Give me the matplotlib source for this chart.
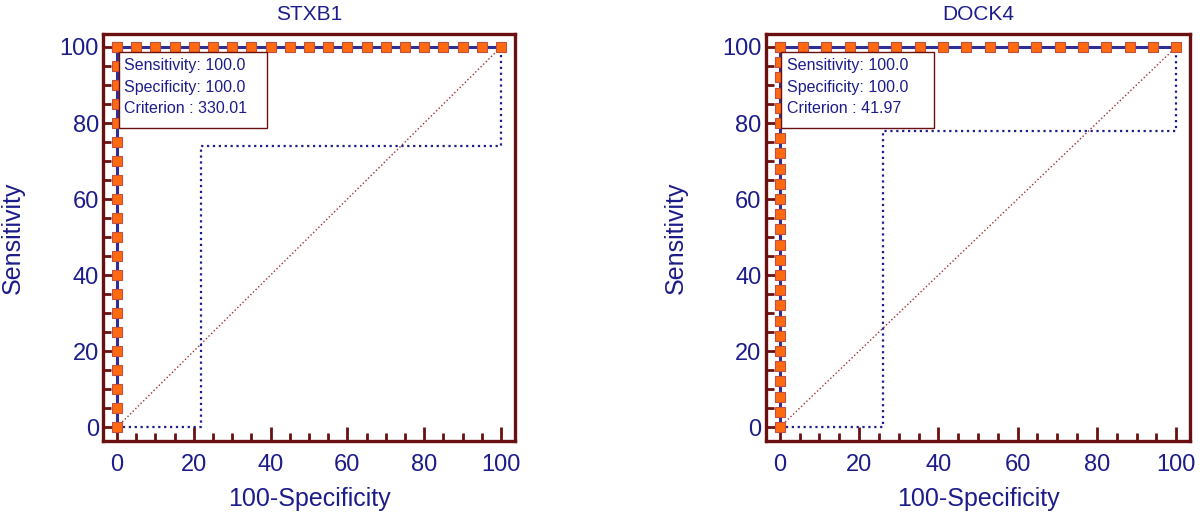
import matplotlib
matplotlib.use('Agg')
import matplotlib.pyplot as plt
import numpy as np
from matplotlib.ticker import MultipleLocator
from matplotlib.patches import Rectangle

plt.rcParams['font.family'] = ['Liberation Sans', 'DejaVu Sans']

NAVY = '#1c1c8a'
MAROON = '#6b1010'

titles = ['STXB1', 'DOCK4']
criteria = ['330.01', '41.97']
# ROC points (100-Specificity, Sensitivity)
roc_x = [
    [0] * 21 + list(np.linspace(0, 100, 21)),
    [0] * 26 + list(np.linspace(0, 100, 18)),
]
roc_y = [
    list(np.linspace(0, 100, 21)) + [100] * 21,
    list(np.linspace(0, 100, 26)) + [100] * 18,
]
# lower confidence bound (dotted)
ci_x = [[0, 22, 22, 100, 100], [0, 26, 26, 100, 100]]
ci_y = [[0, 0, 74, 74, 100], [0, 0, 78, 78, 100]]

fig = plt.figure(figsize=(12, 5.16), dpi=100)
boxes = [[0.086, 0.145, 0.343, 0.789], [0.638, 0.145, 0.354, 0.789]]

for i in range(2):
    ax = fig.add_axes(boxes[i])
    ax.plot([0, 100], [0, 100], ls=':', color='#a03030', lw=1.0)
    ax.plot(ci_x[i], ci_y[i], ls=':', color=NAVY, lw=1.6)
    ax.plot(roc_x[i], roc_y[i], color='#2e2e96', lw=2.2,
            marker='s', markersize=6.5, markerfacecolor='#ff6a10',
            markeredgecolor='#c05040', markeredgewidth=0.8, zorder=3)

    ax.set_xlim(-3.6, 103.6)
    ax.set_ylim(-3.7, 103.4)
    ax.xaxis.set_major_locator(MultipleLocator(20))
    ax.xaxis.set_minor_locator(MultipleLocator(5))
    ax.yaxis.set_major_locator(MultipleLocator(20))
    ax.yaxis.set_minor_locator(MultipleLocator(5))
    ax.tick_params(which='both', direction='in', color=MAROON, width=2,
                   top=False, right=False)
    ax.tick_params(which='major', length=10, labelsize=17, labelcolor=NAVY)
    ax.tick_params(which='minor', length=6)
    ax.tick_params(axis='x', which='major', pad=9)
    ax.tick_params(axis='y', which='major', pad=3)
    for s in ax.spines.values():
        s.set_color(MAROON)
        s.set_linewidth(2.4)

    ax.set_title(titles[i], fontsize=15, color=NAVY, pad=10)
    ax.set_xlabel('100-Specificity', fontsize=18, color=NAVY, labelpad=8)
    ax.set_ylabel('Sensitivity', fontsize=18, color=NAVY, labelpad=25)

    ax.add_patch(Rectangle((0.4, 78.8), 38.6, 19.9, facecolor='white',
                           edgecolor=MAROON, linewidth=1.0, zorder=4))
    lines = ['Sensitivity: 100.0', 'Specificity: 100.0',
             'Criterion : ' + criteria[i]]
    for k, t in enumerate(lines):
        ax.text(1.8, 95.0 - 5.6 * k, t, fontsize=11.5, color=NAVY,
                va='center', ha='left', zorder=5)

fig.savefig('out.png', dpi=100)
